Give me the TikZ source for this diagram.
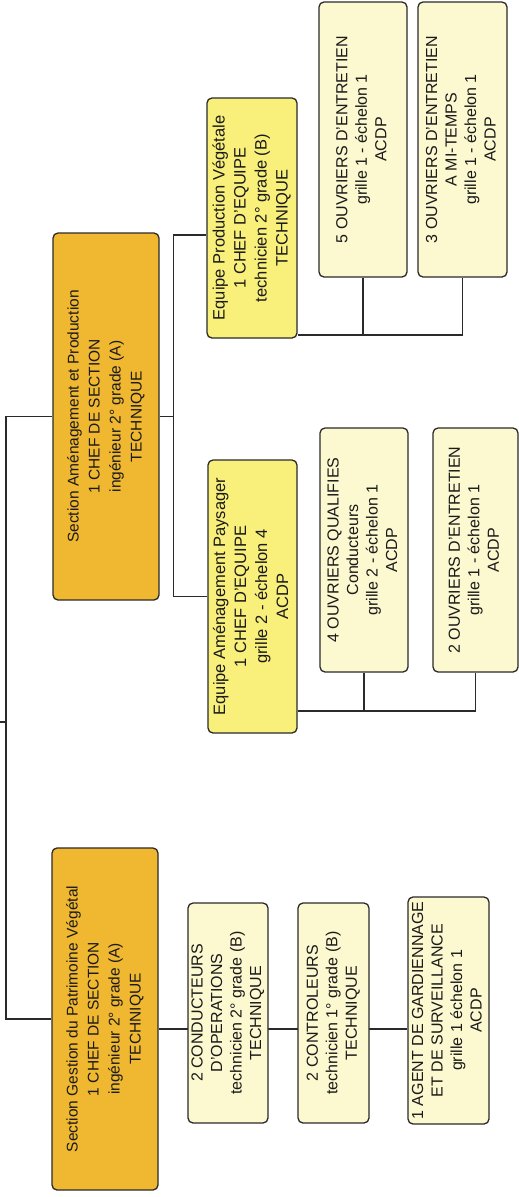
\documentclass[tikz,border=0pt]{standalone}
\usepackage{fontspec}
\setmainfont{Liberation Sans}
\usepackage{graphicx}
\usetikzlibrary{calc,backgrounds}
\definecolor{SectOrange} {HTML}{F0B731}
\definecolor{TeamYellow} {HTML}{F8F07A}
\definecolor{PostCream}  {HTML}{FCF8D0}
\definecolor{LineDark}   {HTML}{2A2A2A}
\definecolor{TextDark}   {HTML}{1A1A1A}
\newcommand{\vlines}[1]{\rotatebox{90}{\begin{tabular}{@{}c@{}}#1\end{tabular}}}
\tikzset{
  cbox/.style={rectangle,rounded corners=5pt,draw=LineDark,line width=1.3pt,
               fill=#1,inner sep=0pt,align=center,text=TextDark},
  sectbox/.style={cbox=SectOrange,font=\fontsize{15.5}{21}\selectfont},
  teambox/.style={cbox=TeamYellow,font=\fontsize{16.5}{21}\selectfont},
  postbox/.style={cbox=PostCream,font=\fontsize{16}{19.5}\selectfont},
  wire/.style={draw=LineDark,line width=1.1pt},
}
\begin{document}
\begin{tikzpicture}[x=1pt,y=1pt]
  \useasboundingbox (0,-1197) rectangle (519,0);

  % Section Gestion du Patrimoine
  \node[sectbox,minimum width=106,minimum height=342] (sgpv) at (105,-1019)
    {\vlines{Section Gestion du Patrimoine V\'eg\'etal\\1 CHEF DE SECTION\\
      ing\'enieur 2° grade (A)\\TECHNIQUE}};
  \node[postbox,minimum width=80,minimum height=220] (cond) at (228,-1013)
    {\vlines{2 CONDUCTEURS\\D'OPERATIONS\\technicien 2° grade (B)\\TECHNIQUE}};
  \node[postbox,minimum width=71,minimum height=220] (ctrl) at (333.5,-1013)
    {\vlines{2 CONTROLEURS\\technicien 1° grade (B)\\TECHNIQUE}};
  \node[postbox,minimum width=81,minimum height=227] (agent) at (448.5,-1010.5)
    {\vlines{1 AGENT DE GARDIENNAGE\\ET DE SURVEILLANCE\\grille 1 \'echelon 1\\ACDP}};

  % Section Amenagement et Production
  \node[sectbox,minimum width=106,minimum height=367] (sap) at (106,-416.5)
    {\vlines{Section Am\'enagement et Production\\1 CHEF DE SECTION\\
      ing\'enieur 2° grade (A)\\TECHNIQUE}};
  \node[teambox,minimum width=89,minimum height=273] (eap) at (252.5,-596.5)
    {\vlines{Equipe Am\'enagement Paysager\\1 CHEF D'EQUIPE\\
      grille 2 - \'echelon 4\\ACDP}};
  \node[teambox,minimum width=90,minimum height=240] (epv) at (252,-218)
    {\vlines{Equipe Production V\'eg\'etale\\1 CHEF D'EQUIPE\\
      technicien 2° grade (B)\\TECHNIQUE}};
  \node[postbox,minimum width=88,minimum height=244] (oq) at (364,-550)
    {\vlines{4 OUVRIERS QUALIFIES\\Conducteurs\\grille 2 - \'echelon 1\\ACDP}};
  \node[postbox,minimum width=85,minimum height=244] (oe2) at (475.5,-550)
    {\vlines{2 OUVRIERS D'ENTRETIEN\\grille 1 - \'echelon 1\\ACDP}};
  \node[postbox,minimum width=88,minimum height=275] (oe5) at (363,-139.5)
    {\vlines{5 OUVRIERS D'ENTRETIEN\\grille 1 - \'echelon 1\\ACDP}};
  \node[postbox,minimum width=89,minimum height=275] (oe3) at (462.5,-139.5)
    {\vlines{3 OUVRIERS D'ENTRETIEN\\A MI-TEMPS\\grille 1 - \'echelon 1\\ACDP}};

  % connectors
  \coordinate (root) at (6,-722);
  \coordinate (stub) at (0,-722);
  \coordinate (chain) at ($(sgpv.east)+(0,-10)$);
  \coordinate (sapbus) at ($(sap.east)+(14,0)$);
  \coordinate (eapout) at ($(eap.east)+(0,-114.5)$);
  \coordinate (epvout) at ($(epv.east)+(0,-117)$);

  \begin{scope}[on background layer]
    \draw[wire] (sgpv.west) -| (root) |- (sap.west);
    \draw[wire] (root) -- (stub);
    \draw[wire] (chain) -- (chain -| agent.west);
    \draw[wire] (sap.east) -- (sapbus);
    \draw[wire] (eap.west) -| (sapbus) |- ($(epv.west)+(0,-17)$);
    \draw[wire] (eapout) -| (oq.south);
    \draw[wire] (eapout) -| (oe2.south);
    \draw[wire] (epvout) -| (oe5.south);
    \draw[wire] (epvout) -| (oe3.south);
  \end{scope}
\end{tikzpicture}
\end{document}
